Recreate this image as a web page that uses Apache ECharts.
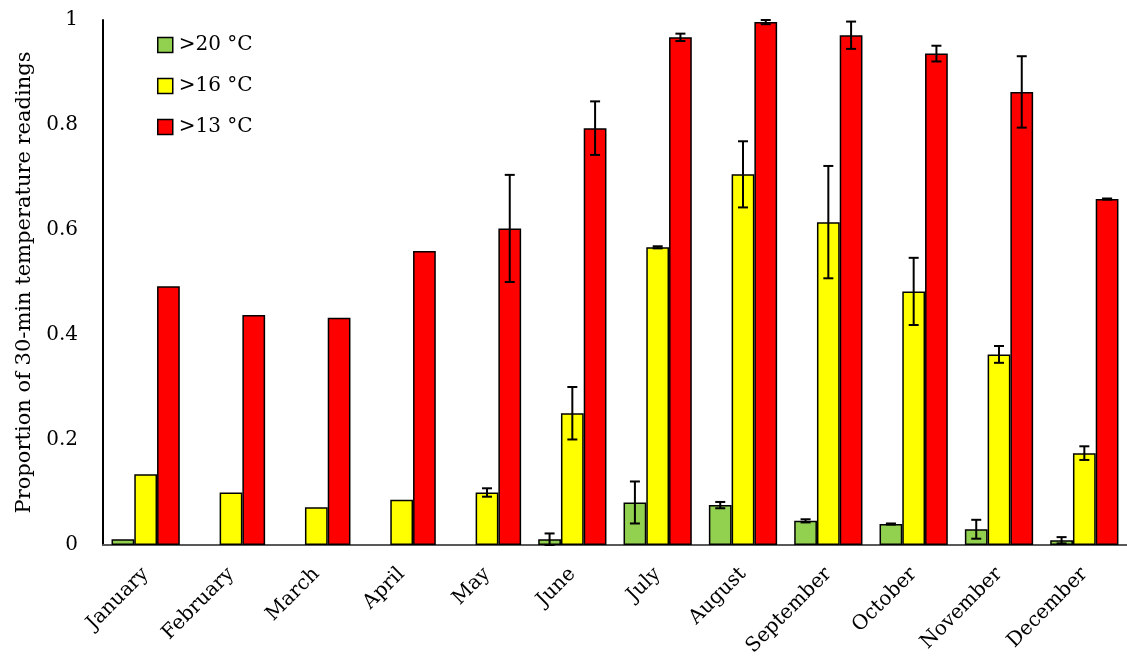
<!DOCTYPE html>
<html>
<head>
<meta charset="utf-8">
<script src="https://cdn.jsdelivr.net/npm/echarts@6/dist/echarts.min.js"></script>
<style>
  html, body { margin: 0; padding: 0; background: #fff; }
  #chart { width: 1127px; height: 663px; }
</style>
</head>
<body>
<div id="chart"></div>
<script>
// Data
const months = ['January', 'February', 'March', 'April', 'May', 'June',
  'July', 'August', 'September', 'October', 'November', 'December'];
const yTicks = [0, 0.2, 0.4, 0.6, 0.8, 1];

// null = no bar visible
const above20 = [0.011, null, null, null, null, 0.011, 0.081, 0.076, 0.046, 0.040, 0.030, 0.009];
const above16 = [0.135, 0.100, 0.072, 0.086, 0.100, 0.251, 0.567, 0.706, 0.615, 0.483, 0.363, 0.175];
const above13 = [0.493, 0.438, 0.433, 0.560, 0.603, 0.794, 0.967, 0.996, 0.971, 0.936, 0.863, 0.659];

// half-width of the error bars (null = no bar drawn)
const err20 = [null, null, null, null, null, 0.011, 0.040, 0.006, 0.003, 0.001, 0.018, 0.006];
const err16 = [null, null, null, null, 0.008, 0.050, 0.002, 0.063, 0.107, 0.064, 0.016, 0.013];
const err13 = [null, null, null, null, 0.102, 0.051, 0.007, 0.004, 0.026, 0.015, 0.068, 0.001];

const seriesNames = ['>20 °C', '>16 °C', '>13 °C'];
const colors = ['#92D050', '#FFFF00', '#FF0000'];

const FONT = 'DejaVu Serif';
const CAT_GAP = 0.2; // same as barCategoryGap

const chart = echarts.init(document.getElementById('chart'), null, { renderer: 'canvas' });

// error bar series: idx = position of the bar in the group (0,1,2)
function errorSeries(values, errs, idx) {
  const data = [];
  values.forEach(function(v, i) {
    if (errs[i] !== null && v !== null) data.push([i, v - errs[i], v + errs[i]]);
  });
  return {
    type: 'custom',
    z: 10,
    silent: true,
    data: data,
    encode: { x: 0, y: [1, 2] },
    renderItem: function(params, api) {
      const band = api.size([1, 0])[0];
      const bw = band * (1 - CAT_GAP) / 3;
      const dx = (idx - 1) * bw;
      const lo = api.coord([api.value(0), api.value(1)]);
      const hi = api.coord([api.value(0), api.value(2)]);
      const x = lo[0] + dx;
      const cap = 5;
      const style = { stroke: '#000', lineWidth: 2 };
      return {
        type: 'group',
        children: [
          { type: 'line', shape: { x1: x, y1: lo[1], x2: x, y2: hi[1] }, style: style },
          { type: 'line', shape: { x1: x - cap, y1: lo[1], x2: x + cap, y2: lo[1] }, style: style },
          { type: 'line', shape: { x1: x - cap, y1: hi[1], x2: x + cap, y2: hi[1] }, style: style }
        ]
      };
    }
  };
}

function barSeries(name, values, color) {
  return {
    name: name,
    type: 'bar',
    data: values,
    barGap: '0%',
    barCategoryGap: (CAT_GAP * 100) + '%',
    itemStyle: { color: color, borderColor: '#000', borderWidth: 1.5 }
  };
}

const option = {
  animation: false,
  backgroundColor: '#fff',
  textStyle: { fontFamily: FONT },
  grid: { left: 103, right: 0, top: 20, bottom: 118, containLabel: false, outerBoundsMode: 'none' },
  legend: {
    orient: 'vertical',
    left: 152,
    top: 30,
    icon: 'rect',
    itemWidth: 15,
    itemHeight: 15,
    itemGap: 21,
    data: seriesNames,
    itemStyle: { borderColor: '#000', borderWidth: 1.5 },
    textStyle: { fontFamily: FONT, fontSize: 20, color: '#000', padding: [0, 0, 0, 1] }
  },
  xAxis: {
    type: 'category',
    data: months,
    axisLine: { lineStyle: { color: '#595959', width: 2 } },
    axisTick: { show: false },
    axisLabel: {
      rotate: 45,
      interval: 0,
      margin: 26,
      fontFamily: FONT,
      fontSize: 20,
      color: '#000'
    }
  },
  yAxis: {
    type: 'value',
    min: 0,
    max: 1,
    interval: 0.2,
    name: 'Proportion of 30-min temperature readings',
    nameLocation: 'middle',
    nameGap: 68,
    nameTextStyle: { fontFamily: FONT, fontSize: 21, color: '#000' },
    axisLine: { show: true, lineStyle: { color: '#000', width: 2 } },
    axisTick: { show: false },
    splitLine: { show: false },
    axisLabel: {
      margin: 25,
      fontFamily: FONT,
      fontSize: 20,
      color: '#000',
      formatter: function(v) {
        const r = Math.round(v * 10) / 10;
        return yTicks.indexOf(r) >= 0 ? String(r) : '';
      }
    }
  },
  series: [
    barSeries(seriesNames[0], above20, colors[0]),
    barSeries(seriesNames[1], above16, colors[1]),
    barSeries(seriesNames[2], above13, colors[2]),
    errorSeries(above20, err20, 0),
    errorSeries(above16, err16, 1),
    errorSeries(above13, err13, 2)
  ]
};

chart.setOption(option);
window.addEventListener('resize', chart.resize);
</script>
</body>
</html>
